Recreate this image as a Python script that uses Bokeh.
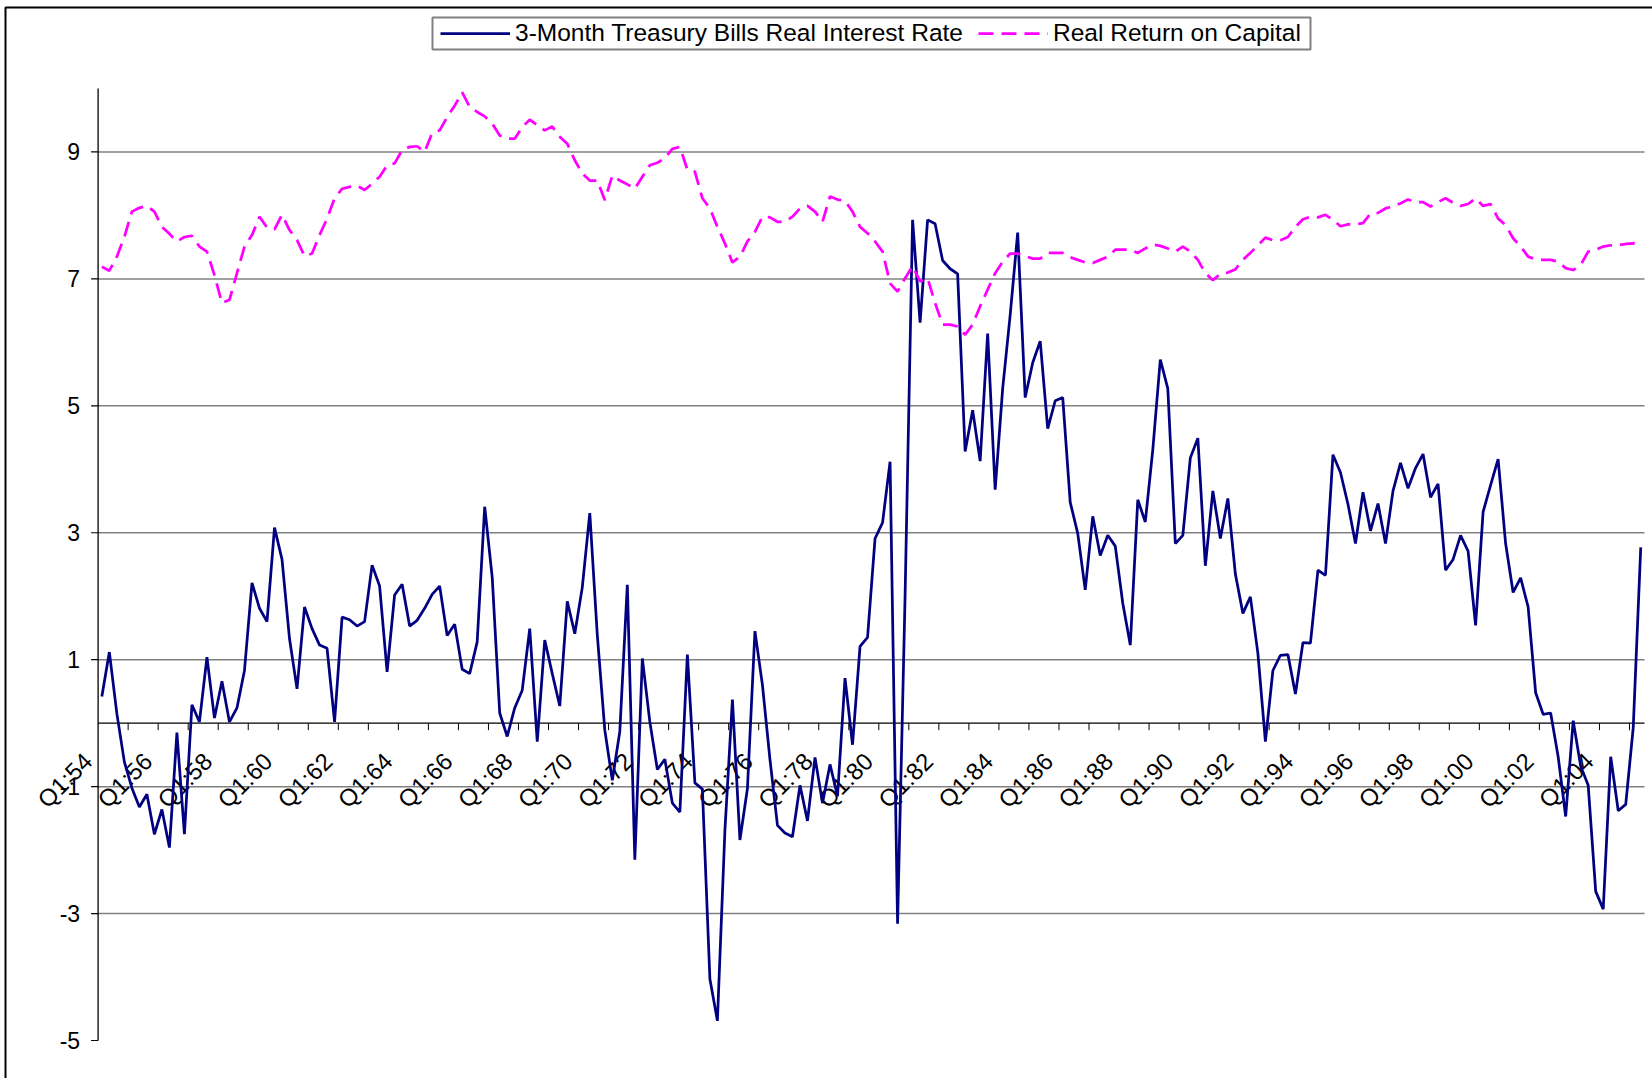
import math
from bokeh.plotting import figure
from bokeh.models import (Range1d, Legend, LegendItem, BoxAnnotation, ColumnDataSource)
from bokeh.core.properties import value
from bokeh.embed import file_html
from bokeh.resources import INLINE

# ---- data -------------------------------------------------------------
years = list(range(54, 100)) + list(range(0, 6))
categories = [f"Q{q}:{y:02d}" for y in years for q in (1, 2, 3, 4)][:206]

tbill_real_rate = [
    0.42, 1.12, 0.15, -0.61, -1.02, -1.32, -1.12, -1.75, -1.36, -1.96,
    -0.15, -1.75, 0.29, 0.02, 1.04, 0.08, 0.66, 0.02, 0.24, 0.83,
    2.21, 1.81, 1.60, 3.08, 2.58, 1.33, 0.54, 1.83, 1.49, 1.23,
    1.18, 0.02, 1.67, 1.63, 1.53, 1.60, 2.49, 2.16, 0.81, 2.02,
    2.19, 1.53, 1.62, 1.81, 2.03, 2.16, 1.38, 1.56, 0.85, 0.78,
    1.28, 3.41, 2.30, 0.16, -0.21, 0.24, 0.52, 1.49, -0.29, 1.31,
    0.78, 0.27, 1.92, 1.41, 2.14, 3.31, 1.39, -0.11, -0.90, -0.13,
    2.18, -2.15, 1.02, 0.02, -0.73, -0.57, -1.26, -1.40, 1.08, -0.94,
    -1.04, -4.03, -4.69, -1.69, 0.37, -1.84, -1.03, 1.45, 0.60, -0.57,
    -1.61, -1.73, -1.79, -0.98, -1.54, -0.54, -1.26, -0.65, -1.15, 0.71,
    -0.34, 1.21, 1.35, 2.91, 3.16, 4.12, -3.16, 2.00, 7.93, 6.31,
    7.93, 7.87, 7.29, 7.16, 7.08, 4.28, 4.93, 4.13, 6.14, 3.68,
    5.27, 6.43, 7.73, 5.13, 5.68, 6.02, 4.64, 5.08, 5.13, 3.48,
    2.99, 2.10, 3.26, 2.64, 2.96, 2.79, 1.89, 1.23, 3.52, 3.17,
    4.31, 5.73, 5.27, 2.83, 2.96, 4.18, 4.49, 2.48, 3.66, 2.91,
    3.54, 2.35, 1.73, 1.99, 1.10, -0.29, 0.83, 1.07, 1.08, 0.46,
    1.27, 1.26, 2.41, 2.33, 4.23, 3.95, 3.45, 2.83, 3.64, 3.03,
    3.46, 2.83, 3.66, 4.10, 3.70, 4.02, 4.24, 3.56, 3.77, 2.41,
    2.58, 2.96, 2.71, 1.54, 3.33, 3.75, 4.16, 2.83, 2.06, 2.29,
    1.83, 0.48, 0.14, 0.16, -0.53, -1.47, 0.04, -0.68, -0.98, -2.65,
    -2.93, -0.53, -1.38, -1.28, -0.07, 2.77,
]

return_on_capital = [
    7.19, 7.13, 7.35, 7.66, 8.06, 8.12, 8.15, 8.06, 7.82, 7.71,
    7.59, 7.66, 7.68, 7.51, 7.43, 7.06, 6.62, 6.67, 7.09, 7.51,
    7.69, 7.98, 7.81, 7.78, 8.01, 7.77, 7.61, 7.36, 7.40, 7.69,
    7.95, 8.27, 8.42, 8.45, 8.47, 8.40, 8.50, 8.61, 8.79, 8.82,
    9.03, 9.08, 9.09, 9.00, 9.30, 9.34, 9.55, 9.73, 9.94, 9.71,
    9.63, 9.56, 9.45, 9.26, 9.21, 9.21, 9.39, 9.51, 9.42, 9.34,
    9.40, 9.24, 9.13, 8.87, 8.66, 8.55, 8.55, 8.24, 8.63, 8.55,
    8.49, 8.42, 8.61, 8.79, 8.83, 8.90, 9.05, 9.08, 8.72, 8.69,
    8.27, 8.11, 7.82, 7.56, 7.26, 7.35, 7.59, 7.74, 7.98, 7.97,
    7.90, 7.90, 7.98, 8.11, 8.15, 8.06, 7.90, 8.30, 8.25, 8.23,
    8.06, 7.82, 7.72, 7.59, 7.43, 6.93, 6.80, 7.01, 7.20, 6.96,
    7.01, 6.62, 6.28, 6.28, 6.25, 6.12, 6.28, 6.57, 6.83, 7.09,
    7.27, 7.40, 7.40, 7.36, 7.32, 7.32, 7.41, 7.41, 7.41, 7.34,
    7.30, 7.26, 7.25, 7.30, 7.35, 7.46, 7.46, 7.46, 7.41, 7.48,
    7.54, 7.52, 7.48, 7.43, 7.51, 7.43, 7.30, 7.09, 6.98, 7.08,
    7.10, 7.15, 7.30, 7.41, 7.53, 7.65, 7.61, 7.61, 7.66, 7.82,
    7.94, 7.98, 7.97, 8.01, 7.93, 7.83, 7.86, 7.86, 7.88, 8.03,
    8.04, 8.11, 8.14, 8.19, 8.25, 8.21, 8.21, 8.14, 8.21, 8.27,
    8.20, 8.15, 8.18, 8.27, 8.15, 8.18, 7.95, 7.85, 7.64, 7.51,
    7.35, 7.31, 7.30, 7.30, 7.27, 7.17, 7.14, 7.22, 7.43, 7.46,
    7.51, 7.53, 7.53, 7.55, 7.56, 7.57,
]

x_tick_labels = ["Q1:54", "Q1:56", "Q1:58", "Q1:60", "Q1:62", "Q1:64", "Q1:66",
                 "Q1:68", "Q1:70", "Q1:72", "Q1:74", "Q1:76", "Q1:78", "Q1:80",
                 "Q1:82", "Q1:84", "Q1:86", "Q1:88", "Q1:90", "Q1:92", "Q1:94",
                 "Q1:96", "Q1:98", "Q1:00", "Q1:02", "Q1:04"]
y_ticks = [-5, -3, -1, 1, 3, 5, 7, 9]
y_tick_labels = ["-5", "-3", "-1", "1", "3", "5", "7", "9"]
grid_values = [-3, -1, 1, 3, 5, 7, 9]
y_min, y_max = -5, 10

series1_name = "3-Month Treasury Bills Real Interest Rate"
series2_name = "Real Return on Capital"

# ---- layout (pixels of the page) --------------------------------------
W, H = 1652, 1078
PLOT_L, PLOT_R, PLOT_T, PLOT_B = 97.6, 1644.0, 88.0, 1040.0
FONT = "Liberation Sans"

n = len(categories)
xs = list(range(n))
x_lo, x_hi = -0.5, n - 0.5
ppx = (PLOT_R - PLOT_L) / (x_hi - x_lo)          # px per category
ppy = (PLOT_B - PLOT_T) / (y_max - y_min)        # px per unit

# the frame fills the whole canvas; the axes are drawn as marks
p = figure(width=W, height=H, output_backend="svg", toolbar_location=None,
           x_axis_location=None, y_axis_location=None,
           x_range=Range1d(x_lo - PLOT_L / ppx, x_hi + (W - PLOT_R) / ppx),
           y_range=Range1d(y_min - (H - PLOT_B) / ppy, y_max + PLOT_T / ppy),
           min_border=0, min_border_left=0, min_border_right=0,
           min_border_top=0, min_border_bottom=0)
p.outline_line_color = None
p.background_fill_color = "white"
p.border_fill_color = "white"
p.grid.visible = False

# horizontal gridlines
p.segment(x0=[x_lo] * len(grid_values), y0=grid_values,
          x1=[x_hi] * len(grid_values), y1=grid_values,
          line_color="#808080", line_width=1.5)

# value axis
p.segment(x0=[x_lo], y0=[y_min], x1=[x_lo], y1=[y_max], line_color="black", line_width=1.3)
tick_len_x = 7 / ppx
p.segment(x0=[x_lo - tick_len_x] * len(y_ticks), y0=y_ticks,
          x1=[x_lo] * len(y_ticks), y1=y_ticks, line_color="black", line_width=1.2)
p.text(x=[x_lo] * len(y_ticks), y=y_ticks, text=y_tick_labels, x_offset=-18,
       text_align="right", text_baseline="middle", text_font=value(FONT),
       text_font_size="23px", text_color="black")

# category axis crossing at 0
p.segment(x0=[x_lo], y0=[0], x1=[x_hi], y1=[0], line_color="black", line_width=1.2)
tick_x = [k - 0.5 for k in range(4, n, 4)]
tick_len_y = 7 / ppy
p.segment(x0=tick_x, y0=[0] * len(tick_x), x1=tick_x, y1=[-tick_len_y] * len(tick_x),
          line_color="black", line_width=1)

label_x = [categories.index(lbl) for lbl in x_tick_labels]
p.text(x=label_x, y=[0] * len(label_x), text=x_tick_labels, angle=math.pi / 4,
       text_align="right", text_baseline="middle", x_offset=-14, y_offset=34,
       text_font=value(FONT), text_font_size="24px", text_color="black")

# series
src = ColumnDataSource(dict(x=xs, a=tbill_real_rate, b=return_on_capital))
r1 = p.line("x", "a", source=src, line_color="#000080", line_width=2.75)
r2 = p.line("x", "b", source=src, line_color="#FF00FF", line_width=2.75,
            line_dash="15 8")

# legend box drawn separately so its size matches exactly
LEG_L, LEG_R, LEG_T, LEG_B = 432, 1310, 17, 49
p.add_layout(BoxAnnotation(left=LEG_L, right=LEG_R, top=LEG_T, bottom=LEG_B,
                           left_units="canvas", right_units="canvas",
                           top_units="canvas", bottom_units="canvas",
                           fill_color="white", fill_alpha=1,
                           line_color="#808080", line_alpha=1, line_width=2))

legend = Legend(items=[LegendItem(label=series1_name, renderers=[r1]),
                       LegendItem(label=series2_name, renderers=[r2])],
                orientation="horizontal")
legend.label_text_font = FONT
legend.label_text_font_size = "24.5px"
legend.label_text_color = "black"
legend.glyph_width = 70
legend.glyph_height = 20
legend.label_standoff = 5
legend.spacing = 15
legend.padding = 7
legend.margin = 0
legend.border_line_alpha = 0
legend.background_fill_alpha = 0
# centre the legend items vertically in the box
leg_h = 2 * 7 + 28
legend.location = (LEG_L + 1, H - ((LEG_T + LEG_B) / 2 + leg_h / 2))
p.add_layout(legend, "center")

# chart-area border (left and top edges are inside the window)
p.add_layout(BoxAnnotation(left=5, right=W + 20, top=7, bottom=H + 20,
                           left_units="canvas", right_units="canvas",
                           top_units="canvas", bottom_units="canvas",
                           fill_alpha=0, line_color="black", line_alpha=1,
                           line_width=2))

open("out.html", "w").write(file_html(p, INLINE))
